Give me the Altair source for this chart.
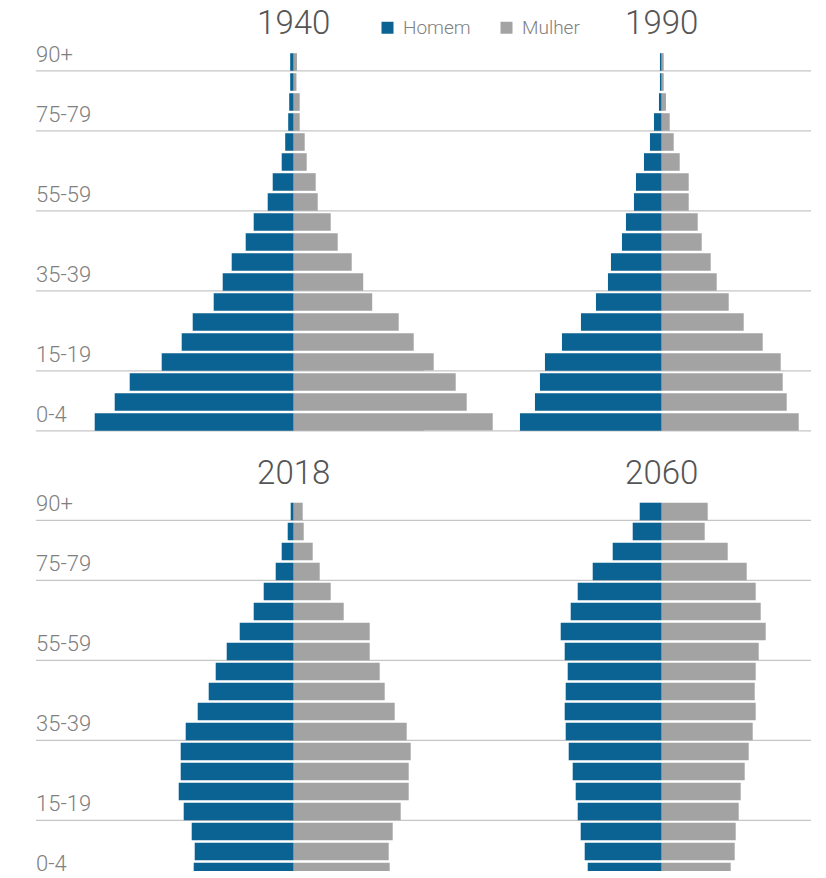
import altair as alt
import pandas as pd

ages = ["90+", "85-89", "80-84", "75-79", "70-74", "65-69", "60-64", "55-59",
        "50-54", "45-49", "40-44", "35-39", "30-34", "25-29", "20-24", "15-19",
        "10-14", "5-9", "0-4"]
label_ages = ["90+", "75-79", "55-59", "35-39", "15-19", "0-4"]
years = ["1940", "1990", "2018", "2060"]
sexes = ["Homem", "Mulher"]

# % of population, listed from 90+ down to 0-4
homem_1940 = [0.14, 0.14, 0.18, 0.22, 0.34, 0.48, 0.84, 1.04, 1.60, 1.92, 2.48, 2.84, 3.20, 4.04, 4.48, 5.28, 6.56, 7.16, 7.96]
mulher_1940 = [0.13, 0.11, 0.24, 0.24, 0.44, 0.52, 0.88, 0.96, 1.48, 1.76, 2.32, 2.78, 3.14, 4.20, 4.80, 5.60, 6.48, 6.92, 7.96]
homem_1990 = [0.07, 0.07, 0.11, 0.31, 0.47, 0.71, 1.03, 1.11, 1.43, 1.59, 2.03, 2.15, 2.63, 3.23, 3.99, 4.67, 4.87, 5.07, 5.67]
mulher_1990 = [0.08, 0.08, 0.17, 0.32, 0.48, 0.72, 1.08, 1.08, 1.44, 1.60, 1.96, 2.20, 2.68, 3.28, 4.04, 4.76, 4.84, 5.00, 5.48]
homem_2018 = [0.12, 0.24, 0.48, 0.72, 1.20, 1.60, 2.16, 2.68, 3.12, 3.40, 3.84, 4.32, 4.52, 4.52, 4.60, 4.40, 4.08, 3.96, 4.00]
mulher_2018 = [0.36, 0.40, 0.76, 1.04, 1.48, 2.00, 3.04, 3.04, 3.44, 3.64, 4.04, 4.52, 4.68, 4.60, 4.60, 4.28, 3.96, 3.80, 3.84]
homem_2060 = [0.88, 1.16, 1.96, 2.76, 3.36, 3.64, 4.04, 3.88, 3.76, 3.84, 3.88, 3.84, 3.72, 3.56, 3.44, 3.36, 3.24, 3.08, 2.96]
mulher_2060 = [1.84, 1.72, 2.64, 3.40, 3.76, 3.96, 4.16, 3.88, 3.76, 3.72, 3.76, 3.64, 3.48, 3.32, 3.16, 3.08, 2.96, 2.92, 2.76]

series = {
    "1940": (homem_1940, mulher_1940),
    "1990": (homem_1990, mulher_1990),
    "2018": (homem_2018, mulher_2018),
    "2060": (homem_2060, mulher_2060),
}

BLUE = "#0b6394"
GRAY = "#a3a3a3"
FONT = "Roboto"

rows = []
for yr, (h, m) in series.items():
    for a, hv, mv in zip(ages, h, m):
        rows.append({"ano": yr, "idade": a, "sexo": "Homem", "valor": -hv})
        rows.append({"ano": yr, "idade": a, "sexo": "Mulher", "valor": mv})
df = pd.DataFrame(rows)
labels_df = pd.DataFrame({"idade": label_ages})

H = 380


def panel(yr, width, domain, show_labels):
    yscale = alt.Scale(domain=ages, paddingInner=0.12, paddingOuter=0.06)
    xs = alt.Scale(domain=domain, nice=False, zero=False)
    bars = alt.Chart(df[df["ano"] == yr]).mark_bar().encode(
        x=alt.X("valor:Q", scale=xs, axis=None, stack=None),
        y=alt.Y("idade:N", scale=yscale, axis=None),
        color=alt.Color("sexo:N", scale=alt.Scale(domain=sexes, range=[BLUE, GRAY]),
                        legend=alt.Legend(title=None, orient="none", direction="horizontal",
                                          legendX=342, legendY=-34, symbolType="square",
                                          symbolSize=144, symbolStrokeWidth=0,
                                          labelFontSize=19, labelColor="#808080",
                                          labelFont=FONT, labelFontWeight=300,
                                          labelOffset=6, columnPadding=26)),
    )
    grid = alt.Chart(labels_df).mark_rule(color="#c6c6c6", strokeWidth=1.2).encode(
        y=alt.Y("idade:N", scale=yscale, axis=None, bandPosition=1),
        x=alt.value(0),
        x2=alt.value(width),
    )
    title = alt.Chart(pd.DataFrame({"ano": [yr], "c": [0]})).mark_text(
        font=FONT, fontSize=33, fontWeight=300, color="#555555", align="center", baseline="middle"
    ).encode(
        x=alt.X("c:Q", scale=xs, axis=None),
        y=alt.value(-28),
        text="ano:N",
    )
    layers = [grid, bars, title]
    if show_labels:
        txt = alt.Chart(labels_df).mark_text(
            font=FONT, fontSize=22, fontWeight=300, color="#808080", align="left",
            baseline="alphabetic", dy=-9
        ).encode(
            y=alt.Y("idade:N", scale=yscale, axis=None, bandPosition=1),
            x=alt.value(0),
            text="idade:N",
        )
        layers.insert(1, txt)
    return alt.layer(*layers).properties(width=width, height=H)


WL, WR = 388, 387
DL = [-10.308, 5.212]
DR = [-9.508, 5.972]

chart = alt.concat(
    panel("1940", WL, DL, True),
    panel("1990", WR, DR, False),
    panel("2018", WL, DL, True),
    panel("2060", WR, DR, False),
    columns=2,
    spacing={"row": 69.5, "column": 0},
    bounds="flush",
).resolve_scale(x="independent", y="independent").properties(
    padding={"left": 27, "top": 0, "right": 0, "bottom": -11.5},
).configure_view(stroke=None)

chart.save("out.html", embed_options={"renderer": "svg", "actions": False})
